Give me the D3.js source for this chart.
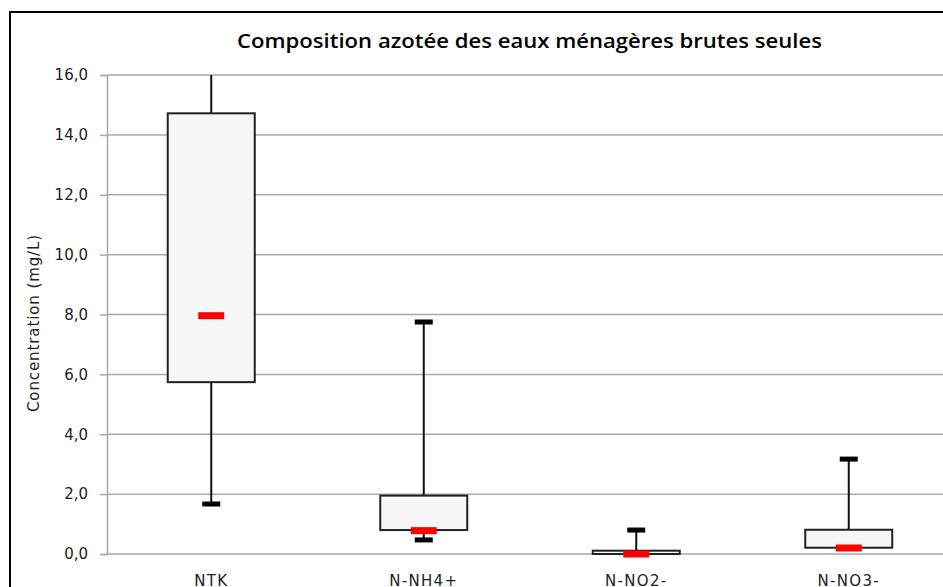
<!DOCTYPE html>
<html><head><meta charset="utf-8">
<script src="https://cdn.jsdelivr.net/npm/d3@7"></script>
<style>html,body{margin:0;padding:0;background:#fff;overflow:hidden}</style>
</head><body>
<svg id="c" width="943" height="587"></svg>
<script>
const categories = ["NTK", "N-NH4+", "N-NO2-", "N-NO3-"];
const mins    = [1.67, 0.47, 0.0, 0.2];
const q1s     = [5.74, 0.80, 0.0, 0.21];
const medians = [7.96, 0.78, 0.0, 0.2];
const q3s     = [14.72, 1.95, 0.11, 0.81];
const maxs    = [16.6, 7.75, 0.8, 3.17];
const yTicks  = [0, 2, 4, 6, 8, 10, 12, 14, 16];
const title = "Composition azotée des eaux ménagères brutes seules";
const yLabel = "Concentration (mg/L)";

const svg = d3.select("#c");
const mLeft = 107, mTop = 75, mBottom = 554, band = 212.5;
const x = d3.scaleBand().domain(categories).range([105, 105 + band * categories.length]).paddingInner(0).paddingOuter(0);
const y = d3.scaleLinear().domain([0, 16]).range([mBottom, mTop]);
const fmt = d => d.toFixed(1).replace(".", ",");

// frame
svg.append("rect").attr("x", 10).attr("y", 12).attr("width", 1000).attr("height", 700)
  .attr("fill", "#fff").attr("stroke", "#000").attr("stroke-width", 2);

// title
svg.append("text").attr("x", 529.5).attr("y", 48).attr("text-anchor", "middle")
  .attr("font-family", "Open Sans").attr("font-weight", 600).attr("font-size", 20)
  .attr("textLength", 585).attr("lengthAdjust", "spacingAndGlyphs")
  .attr("fill", "#000").text(title);

// gridlines
svg.append("g").selectAll("line").data(yTicks).join("line")
  .attr("x1", mLeft).attr("x2", 1000).attr("y1", d => y(d)).attr("y2", d => y(d))
  .attr("stroke", "#a9a9a9").attr("stroke-width", 1.5);

// y axis
const ax = svg.append("g").attr("transform", `translate(${mLeft},0)`)
  .call(d3.axisLeft(y).tickValues(yTicks).tickFormat(fmt).tickSize(7).tickPadding(12));
ax.select(".domain").attr("stroke", "#a9a9a9").attr("stroke-width", 1.5);
ax.selectAll(".tick line").attr("stroke", "#a9a9a9").attr("stroke-width", 1.5);
ax.selectAll(".tick text").attr("font-family", "DejaVu Sans").attr("font-size", 15).attr("fill", "#222");

// y label
svg.append("text").attr("transform", "translate(39,323) rotate(-90)").attr("text-anchor", "middle")
  .attr("font-family", "DejaVu Sans").attr("font-size", 15).attr("letter-spacing", 0.9).attr("fill", "#222").text(yLabel);

// clip
svg.append("clipPath").attr("id", "pc").append("rect").attr("x", mLeft).attr("y", mTop).attr("width", 1000).attr("height", mBottom - mTop + 10);
const g = svg.append("g").attr("clip-path", "url(#pc)");

const data = categories.map((c, i) => ({c, min: mins[i], q1: q1s[i], med: medians[i], q3: q3s[i], max: maxs[i]}));
const cx = d => x(d.c) + x.bandwidth() / 2;
const bw = 87;

// whiskers
g.selectAll(".wh").data(data).join("line").attr("class", "wh")
  .attr("x1", cx).attr("x2", cx).attr("y1", d => y(d.q3)).attr("y2", d => y(d.max))
  .attr("stroke", "#111").attr("stroke-width", 2);
g.selectAll(".wl").data(data).join("line").attr("class", "wl")
  .attr("x1", cx).attr("x2", cx).attr("y1", d => y(d.q1)).attr("y2", d => y(d.min))
  .attr("stroke", "#111").attr("stroke-width", 2);

// boxes
g.selectAll(".box").data(data).join("rect").attr("class", "box")
  .attr("x", d => cx(d) - bw / 2).attr("width", bw)
  .attr("y", d => y(d.q3)).attr("height", d => y(d.q1) - y(d.q3))
  .attr("fill", "#f7f7f7").attr("stroke", "#222").attr("stroke-width", 2);

// caps
const capW = 18, capH = 5;
g.selectAll(".capH").data(data).join("rect").attr("class", "capH")
  .attr("x", d => cx(d) - capW / 2).attr("width", capW).attr("y", d => y(d.max) - capH / 2).attr("height", capH)
  .attr("fill", "#000");
g.selectAll(".capL").data(data).join("rect").attr("class", "capL")
  .attr("x", d => cx(d) - capW / 2).attr("width", capW).attr("y", d => y(d.min) - capH / 2).attr("height", capH)
  .attr("fill", "#000");

// medians
const mW = 26, mH = 7;
g.selectAll(".med").data(data).join("rect").attr("class", "med")
  .attr("x", d => cx(d) - mW / 2).attr("width", mW).attr("y", d => y(d.med) - mH / 2).attr("height", mH)
  .attr("fill", "#ff0000");

// category labels
svg.append("g").selectAll("text").data(categories).join("text")
  .attr("x", d => x(d) + x.bandwidth() / 2).attr("y", 585.5).attr("text-anchor", "middle")
  .attr("font-family", "DejaVu Sans").attr("font-size", 15).attr("letter-spacing", 1.3).attr("fill", "#222").text(d => d);
</script>
</body></html>
